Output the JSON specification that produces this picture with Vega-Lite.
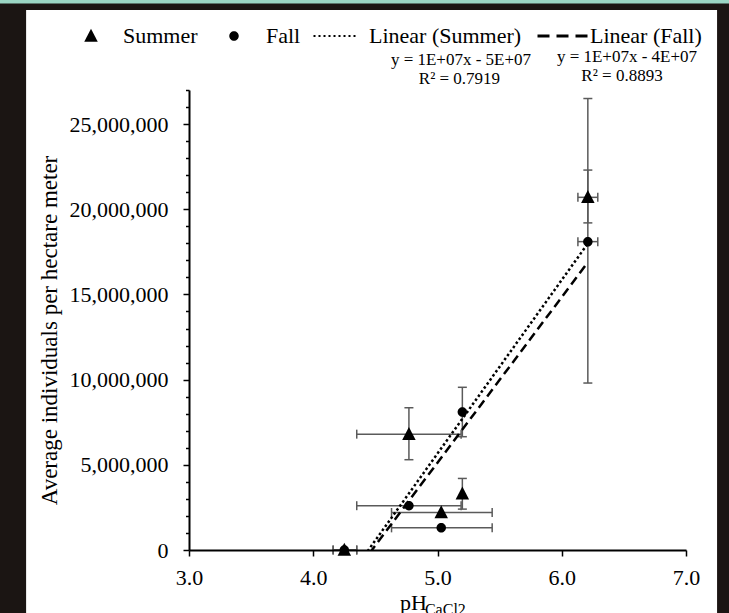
{
  "$schema": "https://vega.github.io/schema/vega-lite/v6.json",
  "width": 497,
  "height": 460,
  "autosize": {"type": "none"},
  "padding": {"left": 189, "top": 90, "right": 43, "bottom": 63},
  "background": "#1b1513",
  "config": {"view": {"stroke": null}, "font": "Liberation Serif"},
  "data": {
    "values": [
      {"season": "Summer", "pH": 4.25, "ind": 0, "pHlo": 4.16, "pHhi": 4.35, "indlo": null, "indhi": null},
      {"season": "Summer", "pH": 4.77, "ind": 6800000, "pHlo": 4.35, "pHhi": 5.19, "indlo": 5300000, "indhi": 8350000},
      {"season": "Summer", "pH": 5.03, "ind": 2200000, "pHlo": 4.63, "pHhi": 5.44, "indlo": null, "indhi": null},
      {"season": "Summer", "pH": 5.2, "ind": 3300000, "pHlo": null, "pHhi": null, "indlo": 2400000, "indhi": 4200000},
      {"season": "Summer", "pH": 6.21, "ind": 20700000, "pHlo": 6.13, "pHhi": 6.29, "indlo": 19200000, "indhi": 22300000},
      {"season": "Fall", "pH": 4.25, "ind": 0, "pHlo": 4.16, "pHhi": 4.35, "indlo": null, "indhi": null},
      {"season": "Fall", "pH": 4.77, "ind": 2600000, "pHlo": 4.35, "pHhi": 5.19, "indlo": null, "indhi": null},
      {"season": "Fall", "pH": 5.03, "ind": 1300000, "pHlo": 4.63, "pHhi": 5.44, "indlo": null, "indhi": null},
      {"season": "Fall", "pH": 5.2, "ind": 8100000, "pHlo": null, "pHhi": null, "indlo": 6650000, "indhi": 9550000},
      {"season": "Fall", "pH": 6.21, "ind": 18100000, "pHlo": 6.13, "pHhi": 6.29, "indlo": 9800000, "indhi": 26500000}
    ]
  },
  "encoding": {
    "x": {
      "type": "quantitative",
      "scale": {"domain": [3, 7], "nice": false, "zero": false},
      "axis": {
        "zindex": 1,
        "values": [3, 4, 5, 6, 7], "format": ".1f", "grid": false,
        "labelFont": "Liberation Serif", "labelFontSize": 22, "labelColor": "black", "labelPadding": 11, "labelFlush": false,
        "tickColor": "black", "tickSize": 6, "tickWidth": 1.5,
        "domainColor": "black", "domainWidth": 2,
        "title": "pH", "titleFont": "Liberation Serif", "titleFontSize": 22, "titleFontWeight": "normal", "titleColor": "black",
        "titleX": 224, "titlePadding": 4
      }
    },
    "y": {
      "type": "quantitative",
      "scale": {"domain": [0, 27000000], "nice": false, "zero": false},
      "axis": {
        "zindex": 1,
        "values": [0, 1000000, 2000000, 3000000, 4000000, 5000000, 6000000, 7000000, 8000000, 9000000, 10000000, 11000000, 12000000, 13000000, 14000000, 15000000, 16000000, 17000000, 18000000, 19000000, 20000000, 21000000, 22000000, 23000000, 24000000, 25000000, 26000000, 27000000],
        "labelExpr": "datum.value % 5000000 === 0 ? format(datum.value, ',') : ''",
        "labelOverlap": false, "grid": false,
        "labelFont": "Liberation Serif", "labelFontSize": 22, "labelColor": "black", "labelPadding": 15,
        "tickColor": "black", "tickWidth": 1.5,
        "tickSize": {"condition": {"test": "datum.value % 5000000 === 0", "value": 6}, "value": 3.5},
        "domainColor": "black", "domainWidth": 2,
        "title": "Average individuals per hectare meter", "titleFont": "Liberation Serif", "titleFontSize": 23, "titleFontWeight": "normal", "titleColor": "black",
        "titlePadding": 8, "titleY": 240
      }
    }
  },
  "layer": [
    {
      "data": {"values": [{}]},
      "mark": {"type": "rect", "color": "white"},
      "encoding": {
        "x": {"datum": 1.689},
        "x2": {"datum": 7.25},
        "y": {"datum": 31700000},
        "y2": {"datum": -5300000}
      }
    },
    {
      "data": {"values": [{}]},
      "mark": {"type": "rect", "color": "#9bd6c4"},
      "encoding": {
        "x": {"datum": 1.39},
        "x2": {"datum": 7.44},
        "y": {"datum": 32600000},
        "y2": {"datum": 32080000}
      }
    },
    {
      "transform": [{"filter": "datum.pHlo != null"}],
      "mark": {"type": "rule", "color": "#5a5a5a", "strokeWidth": 1.5},
      "encoding": {
        "x": {"field": "pHlo"},
        "x2": {"field": "pHhi"},
        "y": {"field": "ind"}
      }
    },
    {
      "transform": [{"filter": "datum.pHlo != null"}, {"fold": ["pHlo", "pHhi"], "as": ["end", "pos"]}],
      "mark": {"type": "tick", "orient": "vertical", "color": "#5a5a5a", "thickness": 1.5, "size": 9, "opacity": 1},
      "encoding": {
        "x": {"field": "pos"},
        "y": {"field": "ind"}
      }
    },
    {
      "transform": [{"filter": "datum.indlo != null"}],
      "mark": {"type": "rule", "color": "#5a5a5a", "strokeWidth": 1.5},
      "encoding": {
        "x": {"field": "pH"},
        "y": {"field": "indlo"},
        "y2": {"field": "indhi"}
      }
    },
    {
      "transform": [{"filter": "datum.indlo != null"}, {"fold": ["indlo", "indhi"], "as": ["end", "pos"]}],
      "mark": {"type": "tick", "orient": "horizontal", "color": "#5a5a5a", "thickness": 1.5, "size": 9, "opacity": 1},
      "encoding": {
        "x": {"field": "pH"},
        "y": {"field": "pos"}
      }
    },
    {
      "transform": [{"regression": "ind", "on": "pH", "groupby": ["season"]}],
      "mark": {"type": "line", "color": "black", "strokeWidth": 2.5, "clip": true},
      "encoding": {
        "x": {"field": "pH"},
        "y": {"field": "ind"},
        "strokeDash": {"field": "season", "type": "nominal", "scale": {"domain": ["Summer", "Fall"], "range": [[2.5, 2.5], [9, 5]]}, "legend": null}
      }
    },
    {
      "mark": {"type": "point", "filled": true, "color": "black", "opacity": 1, "size": 2500, "strokeWidth": 0},
      "encoding": {
        "x": {"field": "pH"},
        "y": {"field": "ind"},
        "shape": {
          "field": "season", "type": "nominal",
          "scale": {
            "domain": ["Summer", "Fall", "Linear (Summer)", "Linear (Fall)"],
            "range": [
              "M0,-0.29L0.27,0.23L-0.27,0.23Z",
              "M0.19,0A0.19,0.19,0,1,1,-0.19,0A0.19,0.19,0,1,1,0.19,0Z",
              "M-0.94,-0.04h0.08v0.08h-0.08Z M-0.74,-0.04h0.08v0.08h-0.08Z M-0.54,-0.04h0.08v0.08h-0.08Z M-0.34,-0.04h0.08v0.08h-0.08Z M-0.14,-0.04h0.08v0.08h-0.08Z M0.06,-0.04h0.08v0.08h-0.08Z M0.26,-0.04h0.08v0.08h-0.08Z M0.46,-0.04h0.08v0.08h-0.08Z M0.66,-0.04h0.08v0.08h-0.08Z",
              "M-0.82,-0.06h0.48v0.12h-0.48Z M-0.06,-0.06h0.48v0.12h-0.48Z M0.70,-0.06h0.48v0.12h-0.48Z"
            ]
          },
          "legend": {
            "title": null, "orient": "none", "legendX": -123, "legendY": -79, "direction": "horizontal",
            "symbolSize": 2500, "symbolFillColor": "black", "symbolStrokeWidth": 0, "symbolOpacity": 1,
            "labelFont": "Liberation Serif", "labelFontSize": 22, "labelColor": "black", "labelOffset": 7,
            "columnPadding": 11, "padding": 0, "labelLimit": 300
          }
        }
      }
    },
    {
      "data": {"values": [{"label": "y = 1E+07x - 5E+07"}]},
      "mark": {"type": "text", "font": "Liberation Serif", "fontSize": 17, "color": "black", "align": "center", "baseline": "middle"},
      "encoding": {"x": {"datum": 5.189}, "y": {"datum": 28760000}, "text": {"field": "label"}}
    },
    {
      "data": {"values": [{"label": "R² = 0.7919"}]},
      "mark": {"type": "text", "font": "Liberation Serif", "fontSize": 17, "color": "black", "align": "center", "baseline": "middle"},
      "encoding": {"x": {"datum": 5.177}, "y": {"datum": 27650000}, "text": {"field": "label"}}
    },
    {
      "data": {"values": [{"label": "y = 1E+07x - 4E+07"}]},
      "mark": {"type": "text", "font": "Liberation Serif", "fontSize": 17, "color": "black", "align": "center", "baseline": "middle"},
      "encoding": {"x": {"datum": 6.525}, "y": {"datum": 28940000}, "text": {"field": "label"}}
    },
    {
      "data": {"values": [{"label": "R² = 0.8893"}]},
      "mark": {"type": "text", "font": "Liberation Serif", "fontSize": 17, "color": "black", "align": "center", "baseline": "middle"},
      "encoding": {"x": {"datum": 6.485}, "y": {"datum": 27820000}, "text": {"field": "label"}}
    },
    {
      "data": {"values": [{"label": "CaCl2"}]},
      "mark": {"type": "text", "font": "Liberation Serif", "fontSize": 16, "color": "black", "align": "left", "baseline": "alphabetic"},
      "encoding": {"x": {"datum": 4.899}, "y": {"datum": -3815000}, "text": {"field": "label"}}
    }
  ]
}
